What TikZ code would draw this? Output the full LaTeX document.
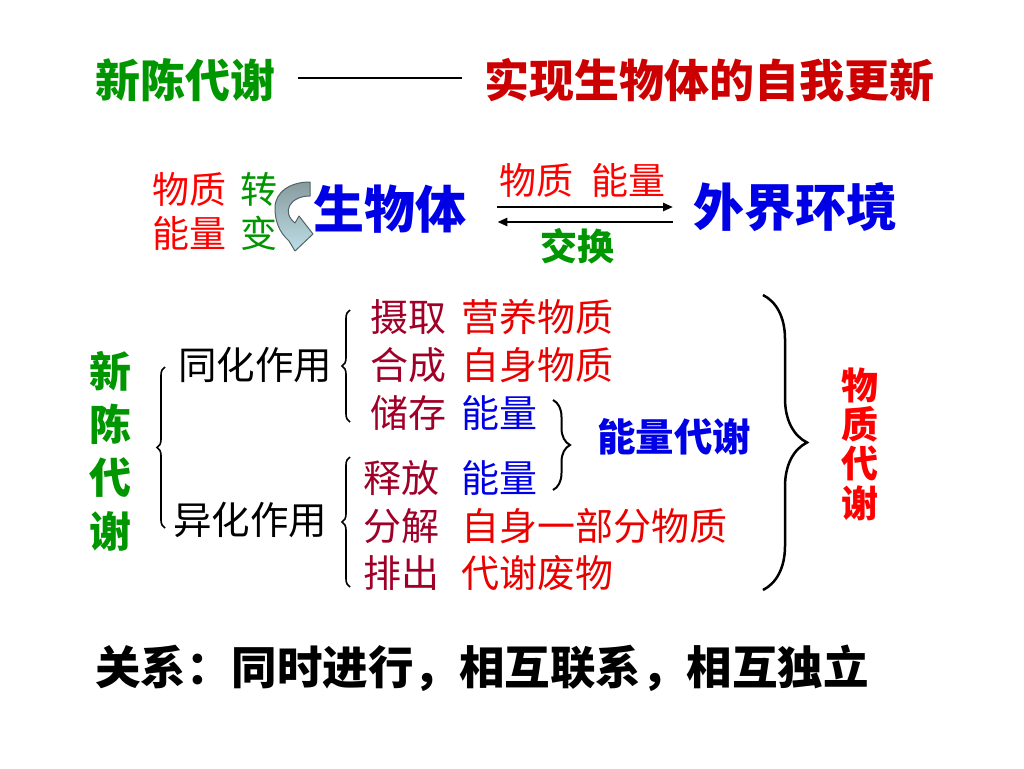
\documentclass[tikz,border=0pt]{standalone}
\usepackage{fontspec}
\setmainfont{Noto Sans CJK SC}
\usetikzlibrary{decorations.pathreplacing,arrows.meta}
\definecolor{cgreen}{RGB}{0,150,0}
\definecolor{cred}{RGB}{204,0,0}
\definecolor{bred}{RGB}{235,0,0}
\definecolor{dred}{RGB}{160,0,40}
\definecolor{cblue}{RGB}{0,0,230}
\definecolor{agray}{RGB}{80,100,100}
\definecolor{atop}{RGB}{135,155,158}
\definecolor{abot}{RGB}{190,222,232}
\newcommand{\fsz}[2]{\fontsize{#1}{#2}\selectfont}
\begin{document}
\begin{tikzpicture}[x=1pt,y=-1pt,
  txt/.style={inner sep=0pt,anchor=west},
  vtxt/.style={inner sep=0pt,align=center},
  brc/.style={decorate,draw=black,line width=1.6pt,decoration={brace,amplitude=#1}},
  xarrow/.style={line width=2.5pt,-{Triangle[length=10pt,width=8pt]}}]
\useasboundingbox[fill=white] (0,0) rectangle (1024,768);

% title
\node[txt,text=cgreen,font=\fsz{45}{45}\bfseries] (t1) at (95,80) {新陈代谢};
\node[txt,text=cred,font=\fsz{45}{45}\bfseries] (t2) at (484,80) {实现生物体的自我更新};
\draw[line width=2.5pt] ([xshift=23pt,yshift=2pt]t1.east) -- ([xshift=-22pt,yshift=2pt]t2.west);

% top row
\node[txt,text=red,font=\fsz{37}{37}] (m1) at (152,189) {物质};
\node[txt,text=cgreen,font=\fsz{37}{37}] (m2) at (240,189) {转};
\node[txt,text=red,font=\fsz{37}{37}] (e1) at (152,233) {能量};
\node[txt,text=cgreen,font=\fsz{37}{37}] (e2) at (240,233) {变};
\node[txt,text=cblue,font=\fsz{51}{51}\bfseries] (bio) at (313,209) {生物体};
\node[txt,text=cblue,font=\fsz{51}{51}\bfseries] (env) at (693,207) {外界环境};
\node[txt,text=red,font=\fsz{37}{37}] (ex1) at (499,180) {物质};
\node[txt,text=red,font=\fsz{37}{37}] (ex2) at (591,180) {能量};
\node[txt,text=cgreen,font=\fsz{37}{37}\bfseries] (ex3) at (540,246) {交换};
\draw[xarrow] ([xshift=31pt,yshift=2pt]bio.east) -- ([xshift=-20pt]env.west);
\draw[xarrow] ([xshift=-20pt,yshift=-15pt]env.west) -- ([xshift=31pt,yshift=-13pt]bio.east);

% curved arrow
\draw[draw=agray,line width=1pt,line join=round,top color=atop,bottom color=abot]
  (310,182) -- (310,196) .. controls (290,196) and (281,212) .. (295,223)
  -- (299,216) -- (313,234) -- (295,251) -- (289,241)
  .. controls (279,232) and (275,221) .. (275,208)
  .. controls (275,192) and (290,182) .. cycle;

% left vertical
\node[vtxt,text=cgreen,font=\fsz{42}{53.3}\bfseries] (xc) at (110,451) {新\\陈\\代\\谢};
\coordinate (b1a) at (165,528); \coordinate (b1b) at (165,367);
\draw[brc=8pt] (b1a) -- (b1b);

\node[txt,font=\fsz{38.5}{38.5}] (th) at (178,365) {同化作用};
\node[txt,font=\fsz{38.5}{38.5}] (yh) at (173,520) {异化作用};
\coordinate (b2a) at (350,422); \coordinate (b2b) at (350,310);
\draw[brc=8pt] (b2a) -- (b2b);
\coordinate (b3a) at (350,587); \coordinate (b3b) at (350,457);
\draw[brc=8pt] (b3a) -- (b3b);

% right column
\node[txt,text=dred,font=\fsz{38}{38}] (r1a) at (370,317) {摄取};
\node[txt,text=bred,font=\fsz{38}{38}] (r1b) at (461,317) {营养物质};
\node[txt,text=dred,font=\fsz{38}{38}] (r2a) at (370,365) {合成};
\node[txt,text=bred,font=\fsz{38}{38}] (r2b) at (461,365) {自身物质};
\node[txt,text=dred,font=\fsz{38}{38}] (r3a) at (370,413) {储存};
\node[txt,text=cblue,font=\fsz{38}{38}] (r3b) at (461,413) {能量};
\node[txt,text=dred,font=\fsz{38}{38}] (r4a) at (363,478) {释放};
\node[txt,text=cblue,font=\fsz{38}{38}] (r4b) at (461,478) {能量};
\node[txt,text=dred,font=\fsz{38}{38}] (r5a) at (363,526) {分解};
\node[txt,text=bred,font=\fsz{38}{38}] (r5b) at (461,526) {自身一部分物质};
\node[txt,text=dred,font=\fsz{38}{38}] (r6a) at (363,573) {排出};
\node[txt,text=bred,font=\fsz{38}{38}] (r6b) at (461,573) {代谢废物};

\coordinate (b4a) at (553,400); \coordinate (b4b) at (553,490);
\draw[brc=17pt,line width=2pt] (b4a) -- (b4b);
\node[txt,text=cblue,font=\fsz{38.5}{38.5}\bfseries] (ny) at (597,437) {能量代谢};

\coordinate (b5a) at (763,295); \coordinate (b5b) at (763,590);
\draw[brc=44pt,line width=2.5pt] (b5a) -- (b5b);
\node[vtxt,text=red,font=\fsz{37}{39.3}\bfseries] (wz) at (860,444) {物\\质\\代\\谢};

% bottom
\node[txt,font=\fsz{45.5}{45.5}\bfseries] (rel) at (95,668) {关系：同时进行，相互联系，相互独立};
\end{tikzpicture}
\end{document}
